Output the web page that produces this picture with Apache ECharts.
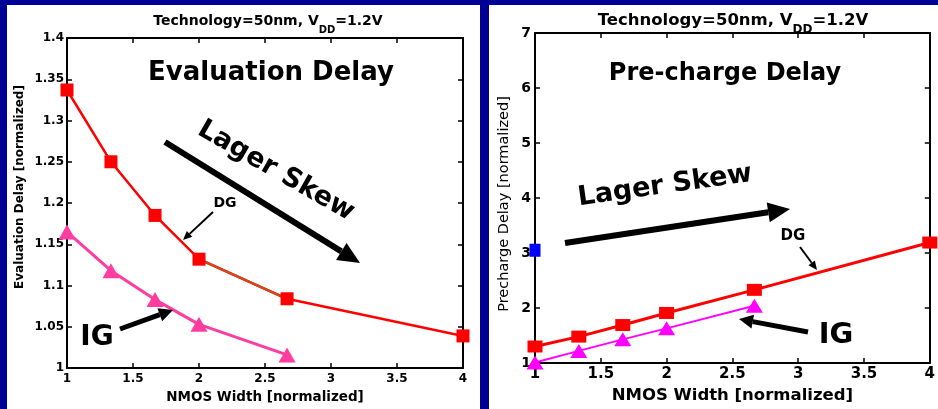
<!DOCTYPE html>
<html>
<head>
<meta charset="utf-8">
<script src="https://cdn.jsdelivr.net/npm/echarts@6/dist/echarts.min.js"></script>
<style>
  html, body { margin: 0; padding: 0; background: #000096; }
  #chart { width: 938px; height: 409px; }
</style>
</head>
<body>
<div id="chart"></div>
<script>
// NMOS width (normalized) at which each delay was measured
const nmosWidth = [1, 1.333, 1.667, 2, 2.667, 4];

// Evaluation delay [normalized]
const evalDelayDG = [1.337, 1.25, 1.185, 1.132, 1.084, 1.039];
const evalDelayIG = [1.165, 1.118, 1.083, 1.053, 1.016];

// Pre-charge delay [normalized]
const prechargeDelayDG = [1.30, 1.48, 1.69, 1.91, 2.33, 3.19];
const prechargeDelayIG = [1.01, 1.22, 1.43, 1.63, 2.04];

// stray blue marker on the pre-charge plot's left edge
const bluePoint = [[1, 3.05]];

// tick labels
const widthTicks = ['1', '1.5', '2', '2.5', '3', '3.5', '4'];
const evalTicks = ['1', '1.05', '1.1', '1.15', '1.2', '1.25', '1.3', '1.35', '1.4'];
const prechargeTicks = ['1', '2', '3', '4', '5', '6', '7'];

const FONT = 'DejaVu Sans';
const pairs = (xs, ys) => ys.map((y, i) => [xs[i], y]);
const tickFmt = (labels, min, step) => v => {
  const k = Math.round((v - min) / step);
  return labels[k] !== undefined ? labels[k] : '';
};

function valueAxis(opts) {
  const base = {
    type: 'value',
    min: opts.min, max: opts.max, interval: opts.step,
    gridIndex: opts.grid,
    position: opts.position,
    axisLine: { show: true, onZero: false, lineStyle: { color: '#000', width: 2 } },
    axisTick: { show: true, inside: true, length: 5, lineStyle: { color: '#000', width: 1.5 } },
    splitLine: { show: false },
    axisLabel: { show: false }
  };
  if (opts.labels) {
    base.axisLabel = {
      show: true, color: '#000', fontFamily: FONT, fontWeight: 'bold',
      fontSize: opts.labelSize, margin: opts.margin,
      formatter: tickFmt(opts.labels, opts.min, opts.step)
    };
  }
  if (opts.name) {
    base.name = opts.name;
    base.nameLocation = 'middle';
    base.nameGap = opts.nameGap;
    base.nameTextStyle = Object.assign({
      color: '#000', fontFamily: FONT, fontWeight: 'bold', fontSize: opts.nameSize
    }, opts.nameStyle || {});
  }
  return base;
}

// arrow annotation: shaft plus triangular head
function arrow(x1, y1, x2, y2, w, headLen, headW) {
  const ang = Math.atan2(y2 - y1, x2 - x1);
  const bx = x2 - headLen * Math.cos(ang), by = y2 - headLen * Math.sin(ang);
  const nx = -Math.sin(ang), ny = Math.cos(ang);
  return [
    { type: 'line', z: 50, shape: { x1: x1, y1: y1, x2: bx, y2: by },
      style: { stroke: '#000', lineWidth: w } },
    { type: 'polygon', z: 50,
      shape: { points: [[x2, y2], [bx + nx * headW / 2, by + ny * headW / 2], [bx - nx * headW / 2, by - ny * headW / 2]] },
      style: { fill: '#000' } }
  ];
}

function label(text, x, y, size, rotation) {
  return {
    type: 'text', z: 50, x: x, y: y, rotation: rotation || 0,
    style: {
      text: text, fill: '#000', fontFamily: FONT, fontWeight: 'bold', fontSize: size,
      align: 'center', verticalAlign: 'middle', textAlign: 'center', textVerticalAlign: 'middle'
    }
  };
}

function header(x, y, size, subSize, lh) {
  return {
    type: 'text', z: 50, x: x, y: y,
    style: {
      text: '{a|Technology=50nm, V}{s|DD}{a|=1.2V}',
      fill: '#000', fontFamily: FONT, fontWeight: 'bold', fontSize: size,
      align: 'center', verticalAlign: 'middle', textAlign: 'center', textVerticalAlign: 'middle',
      rich: {
        a: { fontFamily: FONT, fontWeight: 'bold', fontSize: size, fill: '#000', verticalAlign: 'middle' },
        s: { fontFamily: FONT, fontWeight: 'bold', fontSize: subSize, fill: '#000', lineHeight: lh, verticalAlign: 'bottom' }
      }
    }
  };
}

const graphics = [
  // white panels
  { type: 'rect', z: -100, shape: { x: 7, y: 5, width: 473, height: 404 }, style: { fill: '#fff' } },
  { type: 'rect', z: -100, shape: { x: 489, y: 5, width: 449, height: 404 }, style: { fill: '#fff' } },
  header(268, 21, 14, 10, 28),
  header(733, 21, 16.5, 12, 30),
  label('Evaluation Delay', 271, 73, 26),
  label('Pre-charge Delay', 725, 74, 24),
  label('Lager Skew', 276, 171, 27, -0.52),
  label('Lager Skew', 665, 186, 27, 0.14),
  label('DG', 225, 203, 14),
  label('DG', 793, 236, 15),
  label('IG', 97, 338, 28),
  label('IG', 836, 335, 29)
].concat(
  arrow(165, 142, 360, 263, 6, 22, 20),
  arrow(565, 243, 790, 209, 6, 22, 20),
  arrow(213, 212, 183, 240, 2, 9, 8),
  arrow(800, 247, 817, 270, 2, 9, 8),
  arrow(120, 329, 173, 310, 5, 14, 14),
  arrow(808, 332, 739, 319, 5, 14, 14)
);

const chart = echarts.init(document.getElementById('chart'), null, { renderer: 'canvas' });

chart.setOption({
  animation: false,
  backgroundColor: '#000096',
  grid: [
    { left: 67, top: 38, width: 396, height: 331 },
    { left: 535, top: 33, width: 398, height: 330 }
  ],
  xAxis: [
    valueAxis({ grid: 0, position: 'bottom', min: 1, max: 4, step: 0.5, labels: widthTicks, labelSize: 12, margin: 5,
      name: 'NMOS Width [normalized]', nameGap: 21, nameSize: 13.5 }),
    valueAxis({ grid: 0, position: 'top', min: 1, max: 4, step: 0.5 }),
    valueAxis({ grid: 1, position: 'bottom', min: 1, max: 4, step: 0.5, labels: widthTicks, labelSize: 15, margin: 4,
      name: 'NMOS Width [normalized]', nameGap: 20, nameSize: 16.5 }),
    valueAxis({ grid: 1, position: 'top', min: 1, max: 4, step: 0.5 })
  ],
  yAxis: [
    valueAxis({ grid: 0, position: 'left', min: 1, max: 1.4, step: 0.05, labels: evalTicks, labelSize: 12, margin: 3,
      name: 'Evaluation Delay [normalized]', nameGap: 41, nameSize: 12, nameStyle: { padding: [0, 0, 0, 32] } }),
    valueAxis({ grid: 0, position: 'right', min: 1, max: 1.4, step: 0.05 }),
    valueAxis({ grid: 1, position: 'left', min: 1, max: 7, step: 1, labels: prechargeTicks, labelSize: 14, margin: 4,
      name: 'Precharge Delay [normalized]', nameGap: 23, nameSize: 14.5,
      nameStyle: { fontWeight: 'normal', padding: [0, 12, 0, 0] } }),
    valueAxis({ grid: 1, position: 'right', min: 1, max: 7, step: 1 })
  ],
  series: [
    // Evaluation delay, DG
    { type: 'line', xAxisIndex: 0, yAxisIndex: 0, z: 2, clip: false, showSymbol: false,
      data: pairs(nmosWidth, evalDelayDG), lineStyle: { color: '#ff0000', width: 2.5 } },
    { type: 'line', xAxisIndex: 0, yAxisIndex: 0, z: 3, clip: false, showSymbol: false,
      data: pairs(nmosWidth, evalDelayDG).slice(3, 5), lineStyle: { color: '#d2461c', width: 2.5 } },
    { type: 'scatter', xAxisIndex: 0, yAxisIndex: 0, z: 4, clip: false,
      data: pairs(nmosWidth, evalDelayDG), symbol: 'rect', symbolSize: 13,
      itemStyle: { color: '#ff0000', opacity: 1 } },
    // Evaluation delay, IG
    { type: 'line', xAxisIndex: 0, yAxisIndex: 0, z: 5, clip: false,
      data: pairs(nmosWidth, evalDelayIG), symbol: 'triangle', symbolSize: [17, 15], showAllSymbol: true,
      lineStyle: { color: '#ff3ca0', width: 3 }, itemStyle: { color: '#ff3ca0' } },
    // Pre-charge delay, DG
    { type: 'line', xAxisIndex: 2, yAxisIndex: 2, z: 4, clip: false,
      data: pairs(nmosWidth, prechargeDelayDG), symbol: 'rect', symbolSize: [15, 12], showAllSymbol: true,
      lineStyle: { color: '#ff0000', width: 3 }, itemStyle: { color: '#ff0000' } },
    // Pre-charge delay, IG
    { type: 'line', xAxisIndex: 2, yAxisIndex: 2, z: 5, clip: false,
      data: pairs(nmosWidth, prechargeDelayIG), symbol: 'triangle', symbolSize: [17, 14], showAllSymbol: true,
      lineStyle: { color: '#ff00ff', width: 2 }, itemStyle: { color: '#ff00ff' } },
    { type: 'scatter', xAxisIndex: 2, yAxisIndex: 2, z: 5, clip: false,
      data: bluePoint, symbol: 'rect', symbolSize: [11, 13], itemStyle: { color: '#0000ff', opacity: 1 } }
  ],
  graphic: { elements: graphics }
});
</script>
</body>
</html>
